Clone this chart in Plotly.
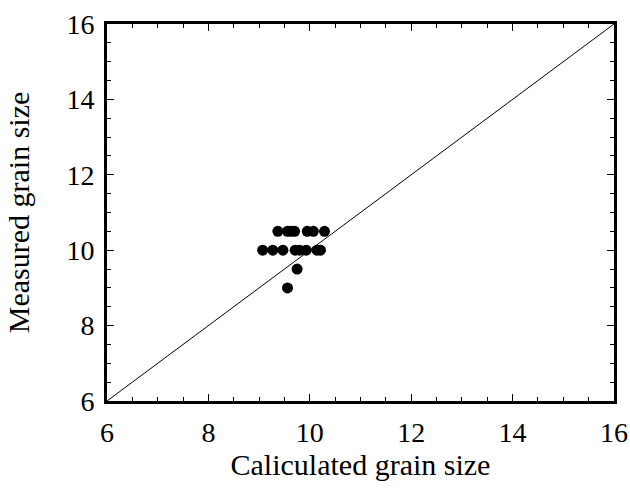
import plotly.graph_objects as go

calc_size = [9.37, 9.56, 9.63, 9.70, 9.95, 10.07, 10.29,
             9.07, 9.27, 9.47, 9.71, 9.80, 9.93, 10.14, 10.21,
             9.75, 9.56]
meas_size = [10.5, 10.5, 10.5, 10.5, 10.5, 10.5, 10.5,
             10.0, 10.0, 10.0, 10.0, 10.0, 10.0, 10.0, 10.0,
             9.5, 9.0]
diag_x = [6, 16]
diag_y = [6, 16]
tick_vals = [6, 8, 10, 12, 14, 16]

fig = go.Figure()
fig.add_trace(go.Scatter(x=diag_x, y=diag_y, mode="lines",
                         line=dict(color="black", width=1), showlegend=False))
fig.add_trace(go.Scatter(x=calc_size, y=meas_size, mode="markers",
                         marker=dict(color="black", size=11), showlegend=False))

axis_common = dict(
    showgrid=False, zeroline=False, showline=True, linecolor="black", linewidth=3,
    mirror="ticks", ticks="inside", ticklen=7, tickwidth=1, tickcolor="black",
    tickvals=tick_vals, range=[6, 16], automargin=False,
    tickfont=dict(family="Liberation Serif", size=28, color="black"),
    minor=dict(ticks="inside", ticklen=4, tickwidth=1, tickcolor="black", dtick=0.5, showgrid=False),
)

fig.update_layout(
    width=630, height=494,
    margin=dict(l=107, r=16, t=24, b=93),
    plot_bgcolor="white", paper_bgcolor="white",
    xaxis=dict(**axis_common, ticklabelstandoff=4,
               title=dict(text="Caliculated grain size",
                          font=dict(family="Liberation Serif", size=30, color="black"), standoff=6)),
    yaxis=dict(**axis_common, ticklabelstandoff=4,
               title=dict(text="Measured grain size",
                          font=dict(family="Liberation Serif", size=30, color="black"), standoff=28)),
)

fig.write_html("out.html")
